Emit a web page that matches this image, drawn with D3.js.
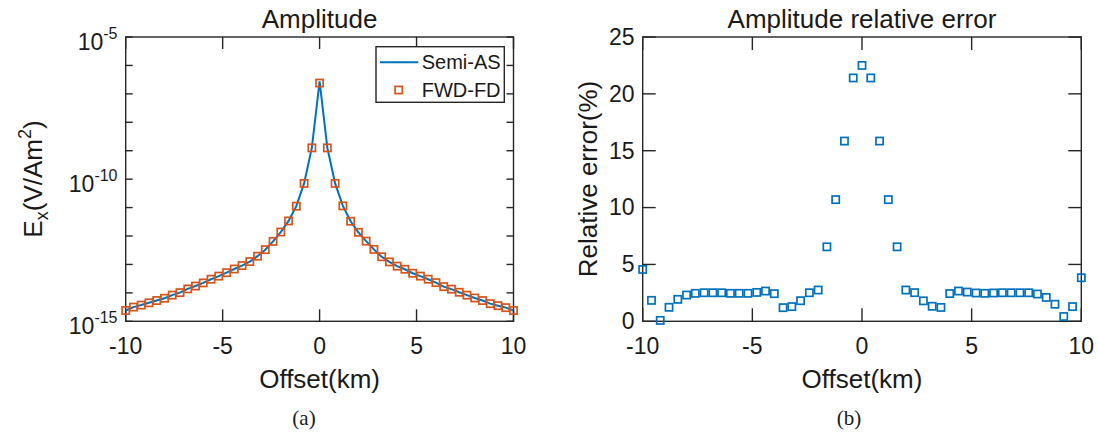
<!DOCTYPE html>
<html>
<head>
<meta charset="utf-8">
<script src="https://cdn.jsdelivr.net/npm/d3@7"></script>
<style>
  body { margin: 0; background: #fff; }
  svg { display: block; }
  text { font-family: "Liberation Sans", Arial, sans-serif; fill: #1a1a1a; }
</style>
</head>
<body>
<svg id="chart" width="1099" height="434"></svg>
<script>
// offsets in km, shared by every series
const offsets = [-10, -9.6, -9.2, -8.8, -8.4, -8, -7.6, -7.2, -6.8, -6.4, -6, -5.6, -5.2, -4.8, -4.4, -4, -3.6, -3.2, -2.8, -2.4, -2, -1.6, -1.2, -0.8, -0.4,
  0, 0.4, 0.8, 1.2, 1.6, 2, 2.4, 2.8, 3.2, 3.6, 4, 4.4, 4.8, 5.2, 5.6, 6, 6.4, 6.8, 7.2, 7.6, 8, 8.4, 8.8, 9.2, 9.6, 10]

// Ex amplitude, V/Am^2
const fwdFD = [2.40e-15, 3.16e-15, 3.72e-15, 4.47e-15, 5.37e-15, 6.46e-15, 8.32e-15, 1.02e-14, 1.38e-14, 1.74e-14, 2.24e-14, 3.02e-14, 3.89e-14,
  5.13e-14, 6.92e-14, 9.12e-14, 1.26e-13, 1.95e-13, 3.31e-13, 6.46e-13, 1.38e-12, 3.39e-12, 1.12e-11, 7.08e-11, 1.26e-9,
  2.40e-7,
  1.26e-9, 7.08e-11, 1.15e-11, 3.31e-12, 1.35e-12, 6.61e-13, 3.39e-13, 1.86e-13, 1.23e-13, 8.71e-14, 6.76e-14, 4.90e-14, 3.89e-14,
  3.02e-14, 2.29e-14, 1.66e-14, 1.35e-14, 1.05e-14, 8.32e-15, 6.61e-15, 5.37e-15, 4.17e-15, 3.55e-15, 3.02e-15, 2.40e-15]

const semiAS = [2.40e-15, 3.16e-15, 3.72e-15, 4.47e-15, 5.37e-15, 6.46e-15, 8.32e-15, 1.02e-14, 1.38e-14, 1.74e-14, 2.24e-14, 3.02e-14, 3.89e-14,
  5.13e-14, 6.92e-14, 9.12e-14, 1.26e-13, 1.95e-13, 3.31e-13, 6.46e-13, 1.38e-12, 3.39e-12, 1.12e-11, 7.08e-11, 1.26e-9,
  2.75e-7,
  1.26e-9, 7.08e-11, 1.15e-11, 3.31e-12, 1.35e-12, 6.61e-13, 3.39e-13, 1.86e-13, 1.23e-13, 8.71e-14, 6.76e-14, 4.90e-14, 3.89e-14,
  3.02e-14, 2.29e-14, 1.66e-14, 1.35e-14, 1.05e-14, 8.32e-15, 6.61e-15, 5.37e-15, 4.17e-15, 3.55e-15, 3.02e-15, 2.40e-15]

// relative error, %
const relErr = [4.56, 1.84, 0.08, 1.23, 1.93, 2.31, 2.46, 2.51, 2.51, 2.51, 2.46, 2.46, 2.46, 2.54, 2.66, 2.43, 1.2, 1.29, 1.81, 2.51, 2.75, 6.55, 10.7, 15.85, 21.4,
  22.5,
  21.4, 15.85, 10.7, 6.55, 2.75, 2.52, 1.8, 1.32, 1.22, 2.44, 2.66, 2.57, 2.49, 2.46, 2.49, 2.51, 2.51, 2.51, 2.51, 2.4, 2.1, 1.5, 0.42, 1.29, 3.83]

const xTicks = [-10, -5, 0, 5, 10]
const logTicks = [1e-15, 1e-14, 1e-13, 1e-12, 1e-11, 1e-10, 1e-9, 1e-8, 1e-7, 1e-6, 1e-5]
const logLabels = {'1e-15': '-15', '1e-10': '-10', '1e-5': '-5'}
const errTicks = [0, 5, 10, 15, 20, 25]

const blue = '#0072BD'
const orange = '#D95319'
const axisColor = '#262626'

const svg = d3.select('#chart')

// ---------- panel (a) ----------
const xL = d3.scaleLinear().domain([-10, 10]).range([125.7, 513.5])
const yL = d3.scaleLog().domain([1e-15, 1e-5]).range([321.3, 37])

const gA = svg.append('g')

function frame (g, x, y, yTicks, xLen, yLen) {
  const [x0, x1] = x.range()
  const [y0, y1] = y.range()
  g.append('rect')
    .attr('x', x0).attr('y', y1)
    .attr('width', x1 - x0).attr('height', y0 - y1)
    .attr('fill', 'none').attr('stroke', axisColor).attr('stroke-width', 1.4)
  xTicks.forEach(t => {
    g.append('line').attr('x1', x(t)).attr('x2', x(t)).attr('y1', y0).attr('y2', y0 - xLen)
      .attr('stroke', axisColor).attr('stroke-width', 1.4)
    g.append('line').attr('x1', x(t)).attr('x2', x(t)).attr('y1', y1).attr('y2', y1 + xLen)
      .attr('stroke', axisColor).attr('stroke-width', 1.4)
    g.append('text').attr('x', x(t)).attr('y', y0 + 33)
      .attr('text-anchor', 'middle').attr('font-size', 23).text(t)
  })
  yTicks.forEach(t => {
    g.append('line').attr('x1', x0).attr('x2', x0 + yLen).attr('y1', y(t)).attr('y2', y(t))
      .attr('stroke', axisColor).attr('stroke-width', 1.4)
    g.append('line').attr('x1', x1).attr('x2', x1 - yLen).attr('y1', y(t)).attr('y2', y(t))
      .attr('stroke', axisColor).attr('stroke-width', 1.4)
  })
}

frame(gA, xL, yL, logTicks, 12, 7)

logTicks.forEach(t => {
  const key = t.toExponential().replace('+', '').replace(/^1e/, '1e')
  const lab = logLabels[key]
  if (!lab) return
  const txt = gA.append('text').attr('x', 117.5).attr('y', yL(t) + 13)
    .attr('text-anchor', 'end').attr('font-size', 23)
  txt.append('tspan').text('10')
  txt.append('tspan').attr('font-size', 16).attr('dy', -11).text(lab)
})

const line = d3.line()
  .x((d, i) => xL(offsets[i]))
  .y(d => yL(d))

gA.append('path')
  .datum(semiAS)
  .attr('d', line)
  .attr('fill', 'none').attr('stroke', blue).attr('stroke-width', 2)

gA.selectAll('rect.fd').data(fwdFD).join('rect')
  .attr('class', 'fd')
  .attr('x', (d, i) => xL(offsets[i]) - 3.6)
  .attr('y', d => yL(d) - 3.6)
  .attr('width', 7.2).attr('height', 7.2)
  .attr('fill', 'none').attr('stroke', orange).attr('stroke-width', 1.7)

gA.append('text').attr('x', 319.6).attr('y', 28).attr('text-anchor', 'middle')
  .attr('font-size', 26).text('Amplitude')
gA.append('text').attr('x', 319.6).attr('y', 388).attr('text-anchor', 'middle')
  .attr('font-size', 26).text('Offset(km)')

const yLab = gA.append('text').attr('transform', 'translate(42,179) rotate(-90)')
  .attr('text-anchor', 'middle').attr('font-size', 26)
yLab.append('tspan').text('E')
yLab.append('tspan').attr('font-size', 18).attr('dy', 6).text('x')
yLab.append('tspan').attr('dy', -6).text('(V/Am')
yLab.append('tspan').attr('font-size', 18).attr('dy', -11).text('2')
yLab.append('tspan').attr('dy', 11).text(')')

// legend
const leg = gA.append('g')
leg.append('rect').attr('x', 376).attr('y', 46.7).attr('width', 128.3).attr('height', 55.6)
  .attr('fill', '#fff').attr('stroke', axisColor).attr('stroke-width', 1.4)
leg.append('line').attr('x1', 380).attr('x2', 418.3).attr('y1', 62.3).attr('y2', 62.3)
  .attr('stroke', blue).attr('stroke-width', 2)
leg.append('text').attr('x', 421.7).attr('y', 69.3).attr('font-size', 20).text('Semi-AS')
leg.append('rect').attr('x', 395.1).attr('y', 86.4).attr('width', 7.2).attr('height', 7.2)
  .attr('fill', 'none').attr('stroke', orange).attr('stroke-width', 1.7)
leg.append('text').attr('x', 421.7).attr('y', 97).attr('font-size', 20).text('FWD-FD')

svg.append('text').attr('x', 304).attr('y', 425).attr('text-anchor', 'middle')
  .style('font-family', '"Liberation Serif", "Times New Roman", serif')
  .attr('font-size', 21).text('(a)')

// ---------- panel (b) ----------
const xR = d3.scaleLinear().domain([-10, 10]).range([642.7, 1081.3])
const yR = d3.scaleLinear().domain([0, 25]).range([321.3, 37])

const gB = svg.append('g')
frame(gB, xR, yR, errTicks, 13, 13)

errTicks.forEach(t => {
  gB.append('text').attr('x', 634.5).attr('y', yR(t)).attr('dy', '0.34em')
    .attr('text-anchor', 'end').attr('font-size', 23).text(t)
})

gB.selectAll('rect.err').data(relErr).join('rect')
  .attr('class', 'err')
  .attr('x', (d, i) => xR(offsets[i]) - 3.6)
  .attr('y', d => yR(d) - 3.6)
  .attr('width', 7.2).attr('height', 7.2)
  .attr('fill', 'none').attr('stroke', blue).attr('stroke-width', 1.7)

gB.append('text').attr('x', 862).attr('y', 28).attr('text-anchor', 'middle')
  .attr('font-size', 26).text('Amplitude relative error')
gB.append('text').attr('x', 862).attr('y', 388).attr('text-anchor', 'middle')
  .attr('font-size', 26).text('Offset(km)')
gB.append('text').attr('transform', 'translate(597,179) rotate(-90)')
  .attr('text-anchor', 'middle').attr('font-size', 26).text('Relative error(%)')

svg.append('text').attr('x', 849).attr('y', 425).attr('text-anchor', 'middle')
  .style('font-family', '"Liberation Serif", "Times New Roman", serif')
  .attr('font-size', 21).text('(b)')
</script>
</body>
</html>
